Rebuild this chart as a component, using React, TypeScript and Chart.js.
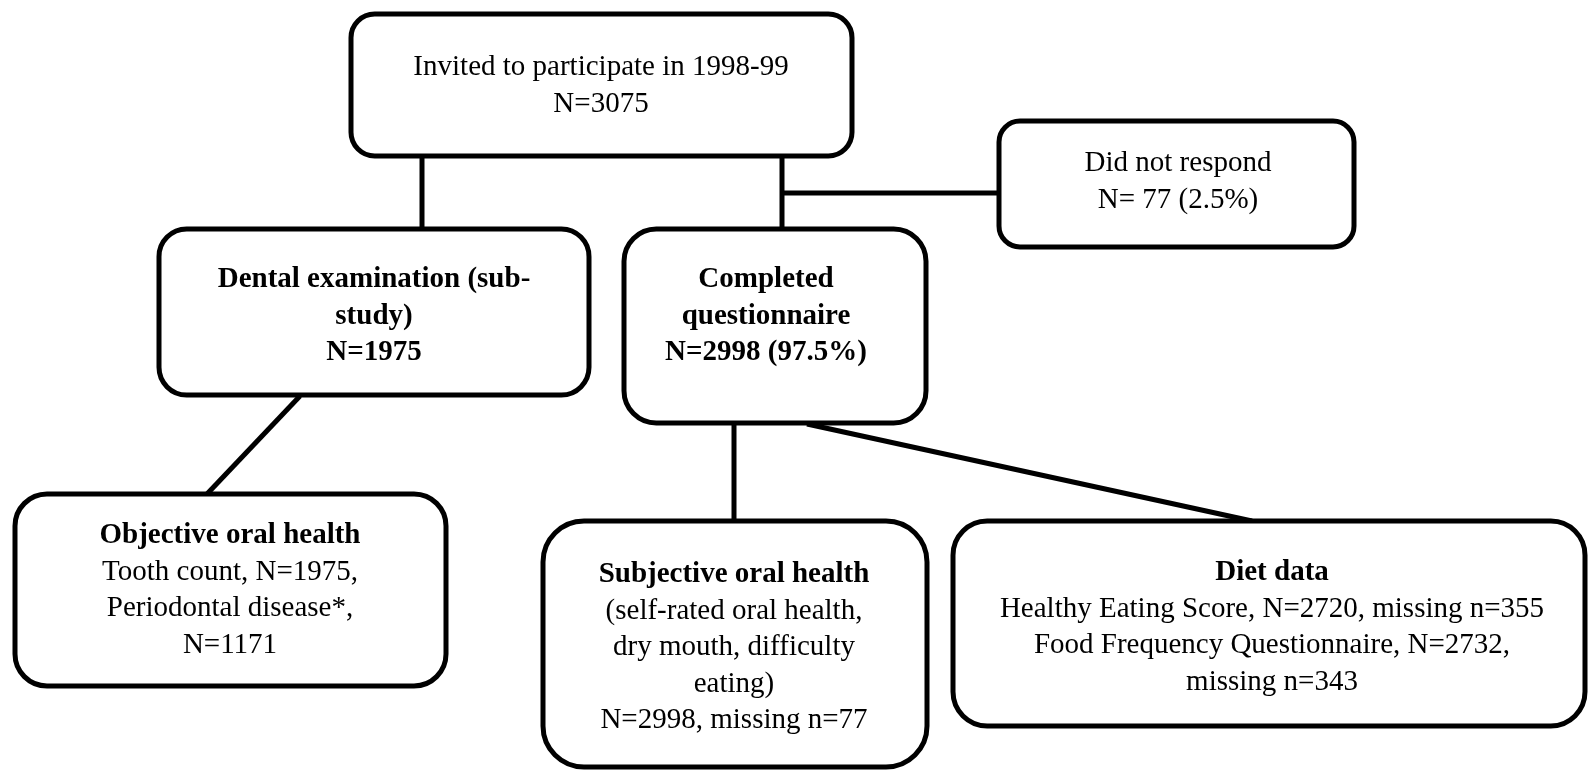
import React, { useEffect, useRef } from "react";
import { Chart, registerables } from "chart.js";

Chart.register(...registerables);

const CANVAS_W = 1588;
const CANVAS_H = 773;

// Flowchart nodes (diagram units)
const nodeText: string[][] = [
  ["Invited to participate in 1998-99", "N=3075"],
  ["Did not respond", "N= 77 (2.5%)"],
  ["Dental examination (sub-", "study)", "N=1975"],
  ["Completed", "questionnaire", "N=2998 (97.5%)"],
  ["Objective oral health", "Tooth count, N=1975,", "Periodontal disease*,", "N=1171"],
  [
    "Subjective oral health",
    "(self-rated oral health,",
    "dry mouth, difficulty",
    "eating)",
    "N=2998, missing n=77",
  ],
  [
    "Diet data",
    "Healthy Eating Score, N=2720, missing n=355",
    "Food Frequency Questionnaire, N=2732,",
    "missing n=343",
  ],
];
const nodeBoldLines = [0, 0, 3, 3, 1, 1, 1];
const nodeLeft = [351, 999, 159, 624, 15, 543, 953];
const nodeRight = [852, 1354, 589, 926, 446, 927, 1585];
const nodeTop = [14, 121, 229, 229, 494, 521, 521];
const nodeBottom = [156, 247, 395, 423, 686, 767, 726];
const textCenterX = [601, 1178, 374, 766, 230, 734, 1272];
const textFirstBaseline = [75, 171, 287, 287, 543, 582, 580];

// Connectors (diagram units)
const linkX1 = [422, 782, 782, 300, 734, 807];
const linkY1 = [156, 156, 193, 396, 423, 424];
const linkX2 = [422, 782, 999, 207, 734, 1252];
const linkY2 = [229, 229, 193, 494, 521, 521];

const LINE_HEIGHT = 36.6;
const FONT_PX = 29;
const STROKE = 5;

const boxesPlugin = {
  id: "flowBoxes",
  afterDatasetsDraw(chart: any) {
    const ctx = chart.ctx as CanvasRenderingContext2D;
    const xs = chart.scales.x;
    const ys = chart.scales.y;
    ctx.save();
    for (let i = 0; i < nodeText.length; i++) {
      const x0 = xs.getPixelForValue(nodeLeft[i]);
      const x1 = xs.getPixelForValue(nodeRight[i]);
      const y0 = ys.getPixelForValue(nodeTop[i]);
      const y1 = ys.getPixelForValue(nodeBottom[i]);
      const w = x1 - x0;
      const h = y1 - y0;
      const r = Math.min(w, h) / 6;
      ctx.beginPath();
      ctx.moveTo(x0 + r, y0);
      ctx.lineTo(x1 - r, y0);
      ctx.arcTo(x1, y0, x1, y0 + r, r);
      ctx.lineTo(x1, y1 - r);
      ctx.arcTo(x1, y1, x1 - r, y1, r);
      ctx.lineTo(x0 + r, y1);
      ctx.arcTo(x0, y1, x0, y1 - r, r);
      ctx.lineTo(x0, y0 + r);
      ctx.arcTo(x0, y0, x0 + r, y0, r);
      ctx.closePath();
      ctx.fillStyle = "#ffffff";
      ctx.fill();
      ctx.lineWidth = STROKE;
      ctx.strokeStyle = "#000000";
      ctx.stroke();

      ctx.fillStyle = "#000000";
      ctx.textAlign = "center";
      ctx.textBaseline = "alphabetic";
      const tx = xs.getPixelForValue(textCenterX[i]);
      nodeText[i].forEach((line, j) => {
        const bold = j < nodeBoldLines[i];
        ctx.font = `${bold ? "bold " : ""}${FONT_PX}px "Liberation Serif", "Times New Roman", serif`;
        const ty = ys.getPixelForValue(textFirstBaseline[i] + j * LINE_HEIGHT);
        ctx.fillText(line, tx, ty);
      });
    }
    ctx.restore();
  },
};

export default function App() {
  const canvasRef = useRef<HTMLCanvasElement | null>(null);

  useEffect(() => {
    document.body.style.margin = "0";
    const canvas = canvasRef.current;
    if (!canvas) return;
    const datasets = linkX1.map((_, i) => ({
      type: "line" as const,
      label: `link${i}`,
      data: [
        { x: linkX1[i], y: linkY1[i] },
        { x: linkX2[i], y: linkY2[i] },
      ],
      showLine: true,
      borderColor: "#000000",
      borderWidth: STROKE,
      pointRadius: 0,
      fill: false,
      tension: 0,
      clip: false as any,
    }));
    const chart = new Chart(canvas, {
      type: "scatter",
      data: { datasets: datasets as any },
      options: {
        animation: false,
        responsive: false,
        maintainAspectRatio: false,
        devicePixelRatio: 1,
        layout: { padding: 0 },
        events: [],
        plugins: {
          legend: { display: false },
          tooltip: { enabled: false },
          title: { display: false },
        },
        scales: {
          x: { type: "linear", min: 0, max: CANVAS_W, display: false },
          y: { type: "linear", min: 0, max: CANVAS_H, reverse: true, display: false },
        },
      },
      plugins: [boxesPlugin],
    });
    return () => chart.destroy();
  }, []);

  return (
    <div style={{ position: "fixed", left: 0, top: 0, width: CANVAS_W, height: CANVAS_H, background: "#fff" }}>
      <canvas ref={canvasRef} width={CANVAS_W} height={CANVAS_H} style={{ display: "block" }} />
    </div>
  );
}
